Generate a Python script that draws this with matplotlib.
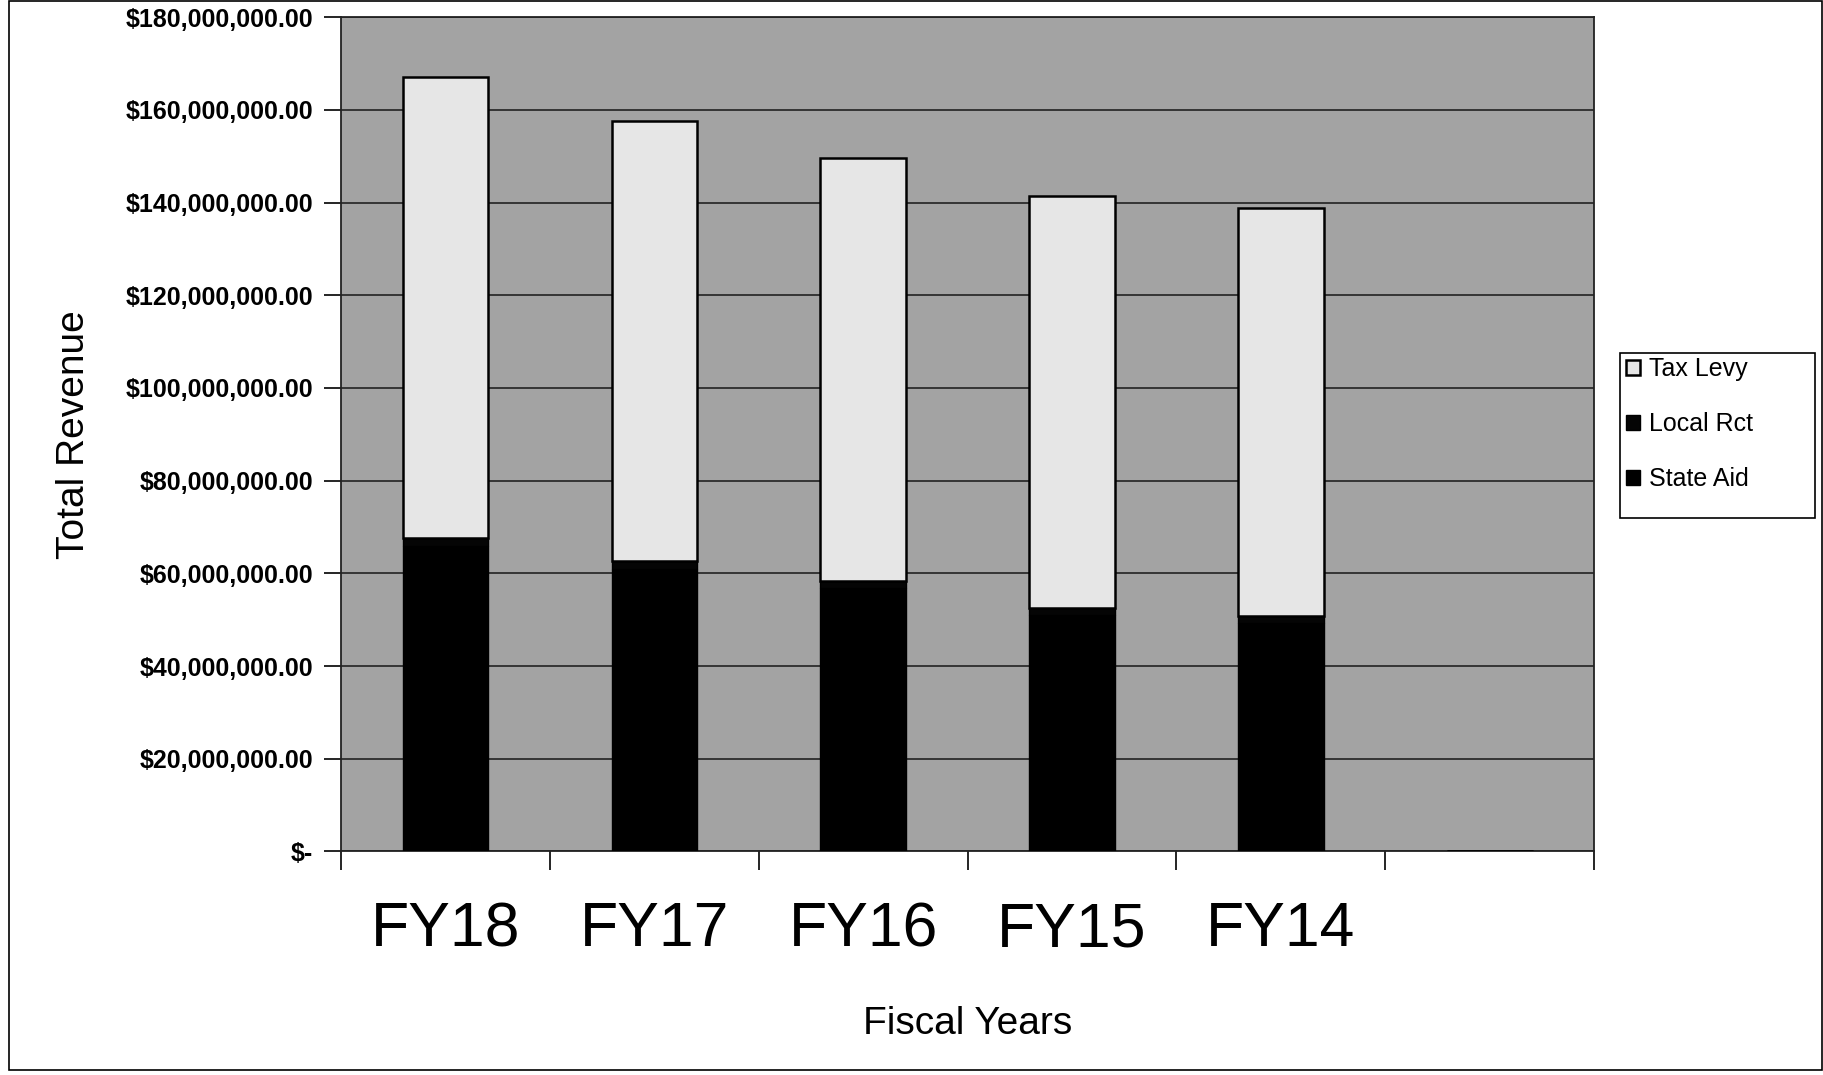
import matplotlib
matplotlib.use('Agg')
import matplotlib.pyplot as plt
from matplotlib.patches import Rectangle
from matplotlib.ticker import FuncFormatter

plt.rcParams['font.family'] = ['Liberation Sans', 'DejaVu Sans']

years = ['FY18', 'FY17', 'FY16', 'FY15', 'FY14', '']
state_aid = [66.0e6, 61.0e6, 56.8e6, 51.0e6, 49.3e6, 0]
local_rct = [1.7e6, 1.7e6, 1.6e6, 1.6e6, 1.6e6, 0]
tax_levy = [99.5e6, 94.9e6, 91.2e6, 88.8e6, 87.9e6, 0]

fig = plt.figure(figsize=(18.24, 10.75), dpi=100)
ax = fig.add_axes([0.187, 0.208, 0.687, 0.776])
ax.set_facecolor('#a3a3a3')

x = list(range(len(years)))
w = 0.41
bottom2 = [a + b for a, b in zip(state_aid, local_rct)]
b1 = ax.bar(x, state_aid, w, color='black', edgecolor='black', lw=1, label='State Aid', zorder=3)
b2 = ax.bar(x, local_rct, w, bottom=state_aid, color='#050505', edgecolor='black', lw=1, label='Local Rct', zorder=3)
b3 = ax.bar(x, tax_levy, w, bottom=bottom2, color='#e6e6e6', edgecolor='black', lw=1.8, label='Tax Levy', zorder=3)

ax.set_xlim(-0.5, len(years) - 0.5)
ax.set_ylim(0, 180e6)
ax.set_yticks(range(0, 180000001, 20000000))

def money(v, pos):
    if v == 0:
        return '$-'
    return '${:,.2f}'.format(v)

ax.yaxis.set_major_formatter(FuncFormatter(money))
ax.grid(axis='y', color='#222222', lw=1.2, zorder=1)
ax.set_xticks([i - 0.5 for i in range(len(years) + 1)])
ax.set_xticklabels([])
ax.set_xticks(x, minor=True)
ax.set_xticklabels(years, minor=True, fontsize=45)
ax.tick_params(axis='x', which='minor', length=0, pad=35)
ax.tick_params(axis='x', which='major', length=14, width=1.2, direction='out')
ax.tick_params(axis='y', labelsize=18, length=12, width=1.2, pad=8)
for lab in ax.get_yticklabels():
    lab.set_fontweight('bold')

for s in ax.spines.values():
    s.set_linewidth(1.3)
    s.set_color('#222222')

ax.set_ylabel('Total Revenue', fontsize=28, labelpad=24)
ax.set_xlabel('Fiscal Years', fontsize=28, labelpad=34)

leg = fig.legend(handles=[b3, b2, b1], labels=['Tax Levy', 'Local Rct', 'State Aid'],
                 loc='upper left', bbox_to_anchor=(0.8915, 0.668), fontsize=18,
                 frameon=False, handlelength=0.55, handleheight=0.55,
                 handletextpad=0.35, labelspacing=1.25, borderpad=0, borderaxespad=0)

# legend box drawn separately, it is wider than the entries
fig.patches.append(Rectangle((0.888, 0.518), 0.107, 0.154, transform=fig.transFigure,
                             fill=False, edgecolor='black', lw=1.2))

fig.patches.append(Rectangle((0.005, 0.005), 0.994, 0.994, transform=fig.transFigure,
                             fill=False, edgecolor='black', lw=1.2))

fig.savefig('out.png', dpi=100, facecolor='white')
